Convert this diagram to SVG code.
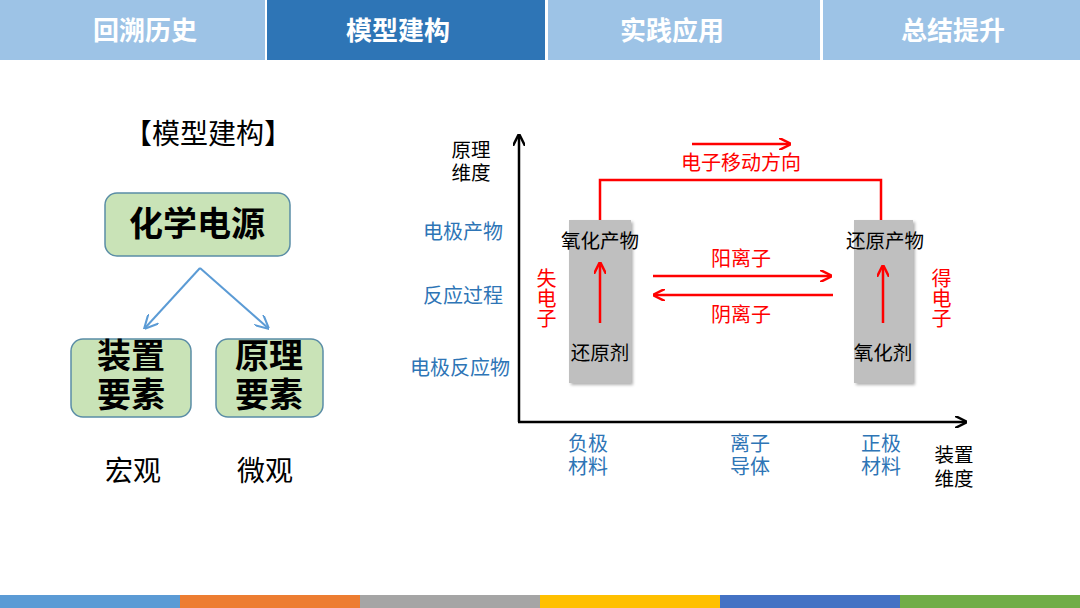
<svg xmlns="http://www.w3.org/2000/svg" width="1080" height="608" viewBox="0 0 1080 608">
<defs>
<style>
text{font-family:"Liberation Sans","Noto Sans CJK SC",sans-serif;}
.tab{font-size:26px;font-weight:bold;fill:#fff;text-anchor:middle;}
.box{fill:#C9E3B7;stroke:#5A8DA6;stroke-width:1.5;}
.bt{font-size:34px;font-weight:bold;fill:#000;text-anchor:middle;}
.blue{font-size:20px;fill:#2E75B6;text-anchor:middle;}
.blk{font-size:19.5px;fill:#000;text-anchor:middle;}
.red{font-size:20px;fill:#FF0000;text-anchor:middle;}
.vt{writing-mode:vertical-rl;}
.rl{stroke:#FF0000;stroke-width:2.5;fill:none;}
.gray{fill:#BFBFBF;}
</style>
<marker id="ar" viewBox="0 0 10 10" refX="9" refY="5" markerWidth="5" markerHeight="5" orient="auto-start-reverse" markerUnits="strokeWidth"><path d="M0,0 L10,5 L0,10" fill="none" stroke="#FF0000" stroke-width="2"/></marker>
<marker id="ab" viewBox="0 0 10 10" refX="9" refY="5" markerWidth="5" markerHeight="5" orient="auto" markerUnits="strokeWidth"><path d="M0,0 L10,5 L0,10" fill="none" stroke="#000" stroke-width="2"/></marker>
<marker id="abl" viewBox="0 0 10 10" refX="9" refY="5" markerWidth="7" markerHeight="7" orient="auto" markerUnits="strokeWidth"><path d="M0,0 L10,5 L0,10" fill="none" stroke="#5B9BD5" stroke-width="1.5"/></marker>
<filter id="sh" x="-20%" y="-10%" width="140%" height="130%"><feDropShadow dx="2" dy="2" stdDeviation="1.5" flood-color="#000" flood-opacity="0.3"/></filter>
</defs>
<rect width="1080" height="608" fill="#fff"/>
<g id="tabs">
<rect x="0" y="0" width="265" height="60" fill="#9DC3E6"/>
<rect x="267" y="0" width="278" height="60" fill="#2E75B6"/>
<rect x="548" y="0" width="272" height="60" fill="#9DC3E6"/>
<rect x="823" y="0" width="257" height="60" fill="#9DC3E6"/>
<text class="tab" x="145" y="40">回溯历史</text>
<text class="tab" x="398" y="40">模型建构</text>
<text class="tab" x="672" y="40">实践应用</text>
<text class="tab" x="953" y="40">总结提升</text>
</g>
<g id="footer">
<rect x="0" y="595" width="180" height="13" fill="#5B9BD5"/>
<rect x="180" y="595" width="180" height="13" fill="#ED7D31"/>
<rect x="360" y="595" width="180" height="13" fill="#A5A5A5"/>
<rect x="540" y="595" width="180" height="13" fill="#FFC000"/>
<rect x="720" y="595" width="180" height="13" fill="#4472C4"/>
<rect x="900" y="595" width="180" height="13" fill="#70AD47"/>
</g>
<text x="208" y="144" font-size="28" text-anchor="middle" fill="#000">【模型建构】</text>
<g id="n-power"><rect class="box" x="105" y="193" width="185" height="63" rx="12"/><text class="bt" x="197" y="236">化学电源</text></g>
<g id="n-device"><rect class="box" x="71" y="339" width="120" height="78" rx="12"/><text class="bt" x="131" y="368" font-size="29">装置<tspan x="131" dy="39">要素</tspan></text></g>
<g id="n-principle"><rect class="box" x="216" y="339" width="107" height="78" rx="12"/><text class="bt" x="269" y="368" font-size="29">原理<tspan x="269" dy="39">要素</tspan></text></g>
<g id="left-connectors" stroke="#5B9BD5" stroke-width="2" fill="none">
<line x1="200" y1="268" x2="145" y2="328" marker-end="url(#abl)"/>
<line x1="200" y1="268" x2="268" y2="328" marker-end="url(#abl)"/>
</g>
<text x="133" y="481" font-size="28" text-anchor="middle" fill="#000">宏观</text>
<text x="265" y="481" font-size="28" text-anchor="middle" fill="#000">微观</text>
<g id="axes" stroke="#000" stroke-width="2.5" fill="none">
<line x1="519" y1="422" x2="519" y2="135" marker-end="url(#ab)"/>
<line x1="518" y1="422" x2="966" y2="422" marker-end="url(#ab)"/>
</g>
<text class="blk" x="471" y="157">原理<tspan x="471" dy="23">维度</tspan></text>
<text class="blue" x="463" y="239">电极产物</text>
<text class="blue" x="463" y="303">反应过程</text>
<text class="blue" x="460" y="375">电极反应物</text>
<text class="blue" x="588" y="451">负极<tspan x="588" dy="23">材料</tspan></text>
<text class="blue" x="750" y="451">离子<tspan x="750" dy="23">导体</tspan></text>
<text class="blue" x="881" y="451">正极<tspan x="881" dy="23">材料</tspan></text>
<text class="blk" x="954" y="462">装置<tspan x="954" dy="24">维度</tspan></text>
<g id="n-anode"><rect class="gray" x="569" y="220" width="62" height="163" filter="url(#sh)"/><text class="blk" x="600" y="248">氧化产物</text><text class="blk" x="600" y="360">还原剂</text></g>
<g id="n-cathode"><rect class="gray" x="854" y="220" width="59" height="163" filter="url(#sh)"/><text class="blk" x="885" y="248">还原产物</text><text class="blk" x="883" y="360">氧化剂</text></g>
<g id="connectors">
<polyline class="rl" points="600,220 600,180 881,180 881,220"/>
<line class="rl" x1="692" y1="144" x2="790" y2="144" marker-end="url(#ar)"/>
<line class="rl" x1="600" y1="323" x2="600" y2="263" marker-end="url(#ar)"/>
<line class="rl" x1="883" y1="323" x2="883" y2="266" marker-end="url(#ar)"/>
<line class="rl" x1="653" y1="276" x2="831" y2="276" marker-end="url(#ar)"/>
<line class="rl" x1="833" y1="295" x2="654" y2="295" marker-end="url(#ar)"/>
</g>
<text class="red" x="741" y="170">电子移动方向</text>
<text class="red" x="741" y="266">阳离子</text>
<text class="red" x="741" y="322">阴离子</text>
<text class="red vt" x="545" y="298">失电子</text>
<text class="red vt" x="940" y="298">得电子</text>
</svg>
